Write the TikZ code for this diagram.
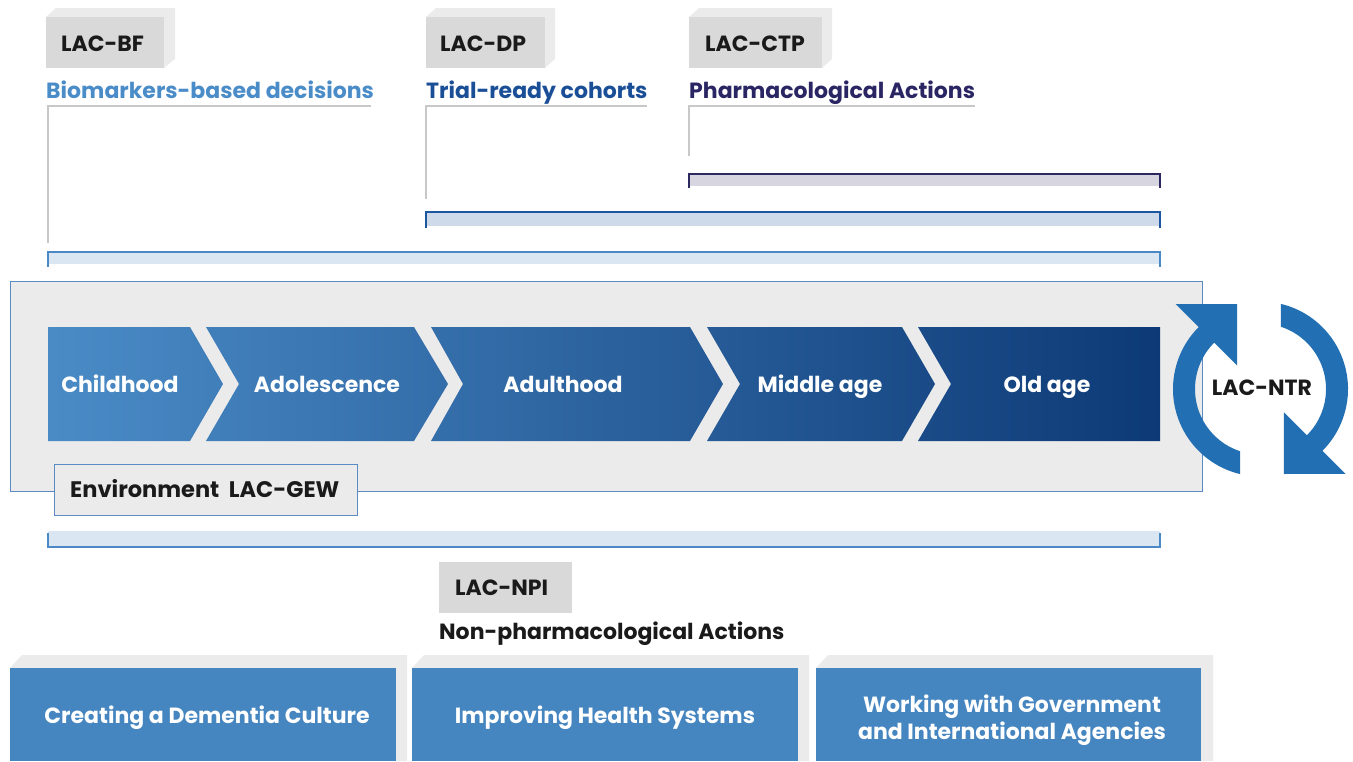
\documentclass[tikz,border=0pt]{standalone}
\usepackage{fontspec}
\setmainfont{Poppins}
\definecolor{boxgray}{HTML}{D9D9D9}
\definecolor{boxback}{HTML}{EBEBEB}
\definecolor{contfill}{HTML}{EBEBEB}
\definecolor{contline}{HTML}{5B8BC5}
\definecolor{chevL}{HTML}{4A8BC6}
\definecolor{chevR}{HTML}{0D3A77}
\definecolor{botbox}{HTML}{4585C0}
\definecolor{ntrblue}{HTML}{2270B3}
\definecolor{leadgray}{HTML}{C8C8C8}
\definecolor{hBF}{HTML}{4A8CC8}
\definecolor{hDP}{HTML}{1A4E97}
\definecolor{hCTP}{HTML}{2A2563}
\definecolor{lBF}{HTML}{4A88C6}
\definecolor{fBF}{HTML}{DAE6F1}
\definecolor{lDP}{HTML}{1D56A0}
\definecolor{fDP}{HTML}{CEDAEA}
\definecolor{lCTP}{HTML}{2B2960}
\definecolor{fCTP}{HTML}{D6D5E0}
\definecolor{inkblack}{HTML}{1A1A1A}
\begin{document}
\begin{tikzpicture}[x=1pt,y=-1pt,
  txt/.style={inner sep=0pt, text=inkblack, font=\fontsize{22}{26}\selectfont\bfseries},
  wtxt/.style={inner sep=0pt, text=white, font=\fontsize{22}{26}\selectfont\bfseries},
  btxt/.style={inner sep=0pt, text=white, align=center, font=\fontsize{22}{27}\selectfont\bfseries},
  leader/.style={draw=leadgray, line width=2.2pt},
  cont/.style={fill=contfill, draw=contline, line width=1pt}]
\useasboundingbox (0,0) rectangle (1353,761);

% ---- top label boxes
\fill[boxback] (46,17) -- (56,8) -- (175,8) -- (175,59) -- (164,68) -- cycle;
\fill[boxgray] (46,17) rectangle (164,68);
\fill[boxback] (426,17) -- (436,8) -- (555,8) -- (555,59) -- (545,68) -- cycle;
\fill[boxgray] (426,17) rectangle (545,68);
\fill[boxback] (689,17) -- (699,8) -- (832,8) -- (832,59) -- (822,68) -- cycle;
\fill[boxgray] (689,17) rectangle (822,68);
\node[txt, anchor=base west] (bf) at (61,51) {LAC-BF};
\node[txt, anchor=base west] (dp) at (440,51) {LAC-DP};
\node[txt, anchor=base west] (ctp) at (705,51) {LAC-CTP};

% ---- headings
\node[txt, anchor=base west, text=hBF] (hbf) at (46,98) {Biomarkers-based decisions};
\node[txt, anchor=base west, text=hDP] (hdp) at (426,98) {Trial-ready cohorts};
\node[txt, anchor=base west, text=hCTP] (hctp) at (689,98) {Pharmacological Actions};

% ---- leader lines
\coordinate (bfA) at (371,106); \coordinate (bfB) at (48,106); \coordinate (bfC) at (48,243);
\coordinate (dpA) at (647,106); \coordinate (dpB) at (426,106); \coordinate (dpC) at (426,199);
\coordinate (ctA) at (975,106); \coordinate (ctB) at (689,106); \coordinate (ctC) at (689,156);
\draw[leader] (bfA) -- (bfB) -- (bfC);
\draw[leader] (dpA) -- (dpB) -- (dpC);
\draw[leader] (ctA) -- (ctB) -- (ctC);

% ---- brackets
\fill[fCTP] (689,174) rectangle (1160,186);
\draw[lCTP, line width=2pt] (689,188) -- (689,174) -- (1160,174) -- (1160,188);
\fill[fDP] (426,212) rectangle (1160,226);
\draw[lDP, line width=2pt] (426,228) -- (426,212) -- (1160,212) -- (1160,228);
\fill[fBF] (48,252) rectangle (1160,264);
\draw[lBF, line width=2pt] (48,267) -- (48,252) -- (1160,252) -- (1160,267);

% ---- container
\path[cont] (10,281) rectangle (1202,491);

% ---- chevrons
\shade[left color=chevL, right color=chevR]
 (48,327) -- (190,327) -- (223,384) -- (190,441) -- (48,441) -- cycle
 (206,327) -- (414,327) -- (448,384) -- (414,441) -- (206,441) -- (239,384) -- cycle
 (431,327) -- (690,327) -- (723,384) -- (690,441) -- (431,441) -- (463,384) -- cycle
 (707,327) -- (902,327) -- (935,384) -- (902,441) -- (707,441) -- (740,384) -- cycle
 (918,327) -- (1160,327) -- (1160,441) -- (918,441) -- (951,384) -- cycle;
\node[wtxt, anchor=base] (c1) at (120,392) {Childhood};
\node[wtxt, anchor=base] (c2) at (327,392) {Adolescence};
\node[wtxt, anchor=base] (c3) at (563,392) {Adulthood};
\node[wtxt, anchor=base] (c4) at (820,392) {Middle age};
\node[wtxt, anchor=base] (c5) at (1047,392) {Old age};

% ---- environment box
\path[cont] (54,464) rectangle (357,515);
\node[txt, anchor=base west, font=\fontsize{22.5}{26}\selectfont\bfseries] (env) at (70,497) {Environment~~LAC-GEW};

% ---- LAC-NTR cycle
\begin{scope}[shift={(1260.5,389)}, yscale=-1]
 \fill[ntrblue] (256.5:87.5) arc[start angle=256.5, end angle=135, radius=87.5]
   -- (135:120) -- (105.37:88) -- (135:33) -- (135:65.5)
   arc[start angle=135, end angle=251.8, radius=65.5] -- cycle;
 \begin{scope}[rotate=180]
 \fill[ntrblue] (256.5:87.5) arc[start angle=256.5, end angle=135, radius=87.5]
   -- (135:120) -- (105.37:88) -- (135:33) -- (135:65.5)
   arc[start angle=135, end angle=251.8, radius=65.5] -- cycle;
 \end{scope}
\end{scope}
\node[txt] (ntr) at (1262,388) {LAC-NTR};

% ---- lower bracket
\fill[fBF] (48,531) rectangle (1160,546);
\draw[lBF, line width=2pt] (48,533) -- (48,547) -- (1160,547) -- (1160,533);

% ---- LAC-NPI
\fill[boxgray] (439,562) rectangle (572,613);
\node[txt, anchor=base west] (npi) at (455,595) {LAC-NPI};
\node[txt, anchor=base west] (hnpi) at (439,639) {Non-pharmacological Actions};

% ---- bottom boxes
\fill[boxback] (10,668) -- (22,655) -- (407,655) -- (407,761) -- (396,761) -- cycle;
\fill[botbox] (10,668) rectangle (396,761);
\fill[boxback] (412,668) -- (424,655) -- (809,655) -- (809,761) -- (798,761) -- cycle;
\fill[botbox] (412,668) rectangle (798,761);
\fill[boxback] (816,668) -- (828,655) -- (1213,655) -- (1213,761) -- (1201,761) -- cycle;
\fill[botbox] (816,668) rectangle (1201,761);
\node[btxt, anchor=base] (b1) at (207,723) {Creating a Dementia Culture};
\node[btxt, anchor=base] (b2) at (605,723) {Improving Health Systems};
\node[btxt] (b3) at (1012,720) {Working with Government\\and International Agencies};
\end{tikzpicture}
\end{document}
